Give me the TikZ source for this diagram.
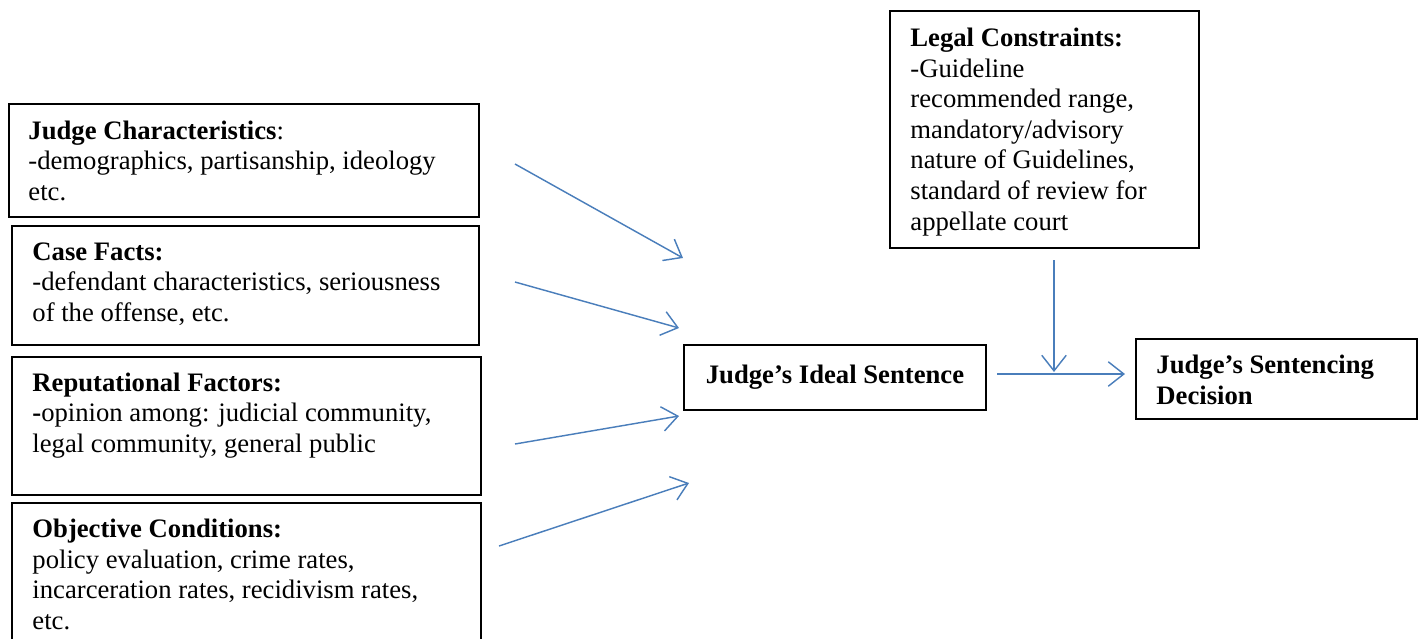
\documentclass[tikz,border=0pt]{standalone}
\usepackage{fontspec}
\setmainfont{Liberation Serif}
\usetikzlibrary{arrows.meta}
\definecolor{arrowblue}{RGB}{74,126,187}
\begin{document}
\begin{tikzpicture}[x=0.45pt,y=-0.45pt,
 box/.style={draw=black, line width=0.9pt, inner sep=0pt, anchor=north west},
 txt/.style={anchor=base west, align=left, inner sep=0pt, font=\fontsize{12pt}{13.75pt}\selectfont},
 conn/.style={draw=arrowblue, line width=0.65pt, -{Straight Barb[length=7pt,width=11pt]}}]
\useasboundingbox (0,0) rectangle (1422,638);
% boxes
\node[box, minimum width=470*0.45pt, minimum height=113*0.45pt] (jc) at (8,103) {};
\node[box, minimum width=467*0.45pt, minimum height=119*0.45pt] (cf) at (11,225) {};
\node[box, minimum width=469*0.45pt, minimum height=138*0.45pt] (rf) at (11,356) {};
\node[box, minimum width=469*0.45pt, minimum height=160*0.45pt] (oc) at (11,502) {};
\node[box, minimum width=309*0.45pt, minimum height=237*0.45pt] (lc) at (889,10) {};
\node[box, minimum width=302*0.45pt, minimum height=65*0.45pt, font=\fontsize{12pt}{13.75pt}\selectfont\bfseries] (is) at (683,344) {Judge’s Ideal Sentence};
\node[box, minimum width=281*0.45pt, minimum height=80*0.45pt] (sd) at (1135,338) {};
% texts (anchored at the baseline of their last line)
\node[txt] (jct) at (28,200.5) {\textbf{Judge Characteristics}:\\-demographics, partisanship, ideology\\etc.};
\node[txt] (cft) at (32,321.5) {\textbf{Case Facts:}\\-defendant characteristics, seriousness\\of the offense, etc.};
\node[txt] (rft) at (32,452.5) {\textbf{Reputational Factors:}\\\textbf{-}opinion among: judicial community,\\legal community, general public};
\node[txt] (oct) at (32,629.5) {\textbf{Objective Conditions:}\\policy evaluation, crime rates,\\incarceration rates, recidivism rates,\\etc.};
\node[txt] (lct) at (910,230) {\textbf{Legal Constraints:}\\-Guideline\\recommended range,\\mandatory/advisory\\nature of Guidelines,\\standard of review for\\appellate court};
\node[txt, font=\fontsize{12pt}{13.75pt}\selectfont\bfseries] (sdt) at (1156,404.5) {Judge’s Sentencing\\Decision};
% connector ends
\coordinate (a1s) at (515,164); \coordinate (a1e) at (683,258);
\coordinate (a2s) at (515,282); \coordinate (a2e) at (679,328);
\coordinate (a3s) at (515,444); \coordinate (a3e) at (679,416);
\coordinate (a4s) at (499,546); \coordinate (a4e) at (689,483);
\coordinate (a5s) at (997,374); \coordinate (a5e) at (1125,374);
\coordinate (a6s) at (1054,260); \coordinate (a6e) at (1054,372);
\draw[conn] (a1s) -- (a1e);
\draw[conn] (a2s) -- (a2e);
\draw[conn] (a3s) -- (a3e);
\draw[conn] (a4s) -- (a4e);
\draw[conn] (a5s) -- (a5e);
\draw[conn] (a6s) -- (a6e);
\end{tikzpicture}
\end{document}
